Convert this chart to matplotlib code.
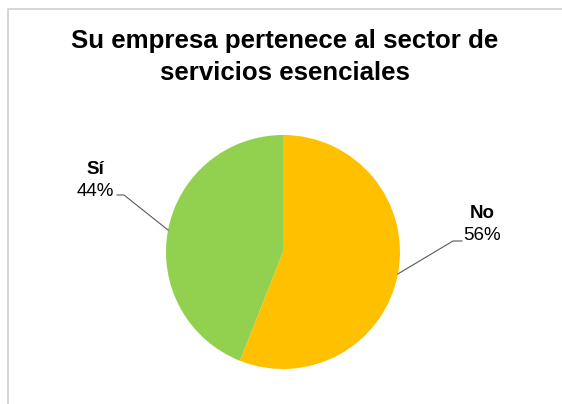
import numpy as np
import matplotlib.pyplot as plt

# data
categories = ["No", "Sí"]
values = [56, 44]
colors = ["#FFC000", "#92D050"]

title = "Su empresa pertenece al sector de\nservicios esenciales"

W, H = 562, 404
fig = plt.figure(figsize=(W / 100, H / 100), dpi=100)
ax = fig.add_axes([0, 0, 1, 1])

# chart border (left + top)
ax.plot([7.5, 7.5, W], [0, H - 8.5, H - 8.5], color="#D0D0D0", lw=1.2, clip_on=False)

center = (283, H - 252)
radius = 117
wedges, _ = ax.pie(values, colors=colors, startangle=90, counterclock=False,
                   center=center, radius=radius, frame=True,
                   wedgeprops=dict(linewidth=0))
ax.set_xlim(0, W)
ax.set_ylim(0, H)
ax.set_aspect("equal")
ax.axis("off")

# label positions (pixel coords of text anchor) and elbow points
label_pos = {"No": (482, 214), "Sí": (95, 170)}
elbows = {"No": ((453, 241), (462, 241)), "Sí": ((124, 195), (117, 195))}

for w, cat, v in zip(wedges, categories, values):
    mid = np.deg2rad((w.theta1 + w.theta2) / 2)
    px = center[0] + radius * np.cos(mid)
    py = center[1] + radius * np.sin(mid)
    (ex, ey), (hx, hy) = elbows[cat]
    ax.plot([px, ex, hx], [py, H - ey, H - hy], color="#595959", lw=0.8)
    lx, ly = label_pos[cat]
    ax.text(lx, H - ly, cat, ha="center", va="center", fontsize=13.5,
            fontweight="bold", family="Liberation Sans")
    ax.text(lx, H - ly - 22, f"{v}%", ha="center", va="center", fontsize=13.5,
            family="Liberation Sans")

ax.text(285, H - 57, title, ha="center", va="center", fontsize=18.6,
        fontweight="bold", family="Liberation Sans", linespacing=1.4)

fig.savefig("out.png", dpi=100)
